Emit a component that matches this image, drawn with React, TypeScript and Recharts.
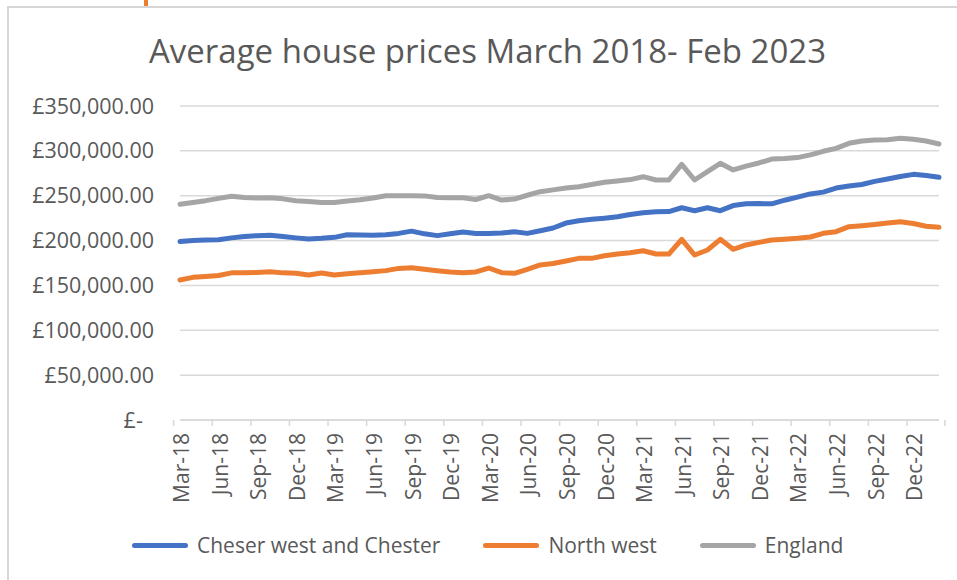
import React from "react";
import { ComposedChart, Line, XAxis, YAxis, CartesianGrid } from "recharts";

const title = "Average house prices March 2018- Feb 2023";

const months = [
  "Mar-18", "Apr-18", "May-18", "Jun-18", "Jul-18", "Aug-18", "Sep-18", "Oct-18", "Nov-18", "Dec-18", "Jan-19", "Feb-19",
  "Mar-19", "Apr-19", "May-19", "Jun-19", "Jul-19", "Aug-19", "Sep-19", "Oct-19", "Nov-19", "Dec-19", "Jan-20", "Feb-20",
  "Mar-20", "Apr-20", "May-20", "Jun-20", "Jul-20", "Aug-20", "Sep-20", "Oct-20", "Nov-20", "Dec-20", "Jan-21", "Feb-21",
  "Mar-21", "Apr-21", "May-21", "Jun-21", "Jul-21", "Aug-21", "Sep-21", "Oct-21", "Nov-21", "Dec-21", "Jan-22", "Feb-22",
  "Mar-22", "Apr-22", "May-22", "Jun-22", "Jul-22", "Aug-22", "Sep-22", "Oct-22", "Nov-22", "Dec-22", "Jan-23", "Feb-23",
];

const cheshireWest = [
  199000, 200000, 200500, 201000, 203000, 204500, 205500, 206000, 204500, 203000, 201800, 202500,
  203600, 206500, 206300, 206000, 206500, 208000, 210500, 207500, 205500, 207500, 209500, 208000,
  208000, 208500, 209800, 208000, 211000, 214000, 219500, 222000, 223700, 225000, 226500, 229000,
  231000, 232000, 232300, 236600, 233300, 236600, 233300, 239000, 241000, 241200, 241000, 245000,
  248500, 252000, 254000, 258500, 260800, 262500, 266000, 268600, 271500, 273800, 272500, 270500,
];

const northWest = [
  156000, 159000, 160000, 161000, 164000, 164200, 164500, 165300, 164000, 163500, 161600, 163800,
  161600, 163000, 164200, 165300, 166500, 169000, 169800, 168000, 166400, 165000, 164200, 165000,
  169400, 164200, 163500, 168000, 172800, 174500, 177200, 180200, 180200, 183100, 185000, 186500,
  188700, 185000, 185000, 201400, 183900, 189500, 201400, 190300, 195100, 198000, 200600, 201400,
  202500, 204000, 208100, 209900, 215500, 216500, 217800, 219500, 221000, 219000, 216000, 214800,
];

const england = [
  240500, 242500, 244500, 247000, 249500, 248000, 247500, 247800, 246500, 244500, 243500, 242500,
  242500, 244000, 245500, 247500, 250000, 250000, 250000, 249800, 248000, 247800, 247800, 245800,
  250000, 245200, 246300, 250500, 254500, 256500, 258500, 260000, 262500, 265000, 266500, 268000,
  271200, 267500, 267500, 285000, 267500, 276800, 286100, 278700, 283000, 286500, 290900, 291500,
  292500, 295500, 299500, 302800, 308400, 311000, 312100, 312500, 314000, 313000, 311000, 307600,
];

const yTicks = [0, 50000, 100000, 150000, 200000, 250000, 300000, 350000];

const seriesNames = ["Cheser west and Chester", "North west", "England"];
const seriesKeys = ["cwc", "nw", "eng"];
const seriesColors = ["#4472C4", "#ED7D31", "#A5A5A5"];

const data = months.map((m, i) => ({
  month: m,
  cwc: cheshireWest[i],
  nw: northWest[i],
  eng: england[i],
}));

const W = 957;
const H = 580;
const MARGIN = { top: 106, right: 18, bottom: 0, left: 0 };
const Y_AXIS_W = 180;
const X_AXIS_H = 160;
const PLOT_W = W - MARGIN.left - MARGIN.right - Y_AXIS_W;
const FONT = "'Open Sans', sans-serif";
const TEXT = "#595959";
const GRID = "#D9D9D9";

const fmtY = (v: number) =>
  v === 0
    ? "£-\u00a0\u00a0"
    : "£" + v.toLocaleString("en-GB", { minimumFractionDigits: 2, maximumFractionDigits: 2 });

const XTick = (props: any) => {
  const { x, y, payload } = props;
  const idx = months.indexOf(payload.value);
  const step = PLOT_W / months.length;
  const left = x - step / 2;
  const isLast = idx + 3 >= months.length;
  const tx = x + 9;
  const ty = y + 13;
  return (
    <g>
      <line x1={left} x2={left} y1={y} y2={y + 6} stroke={GRID} strokeWidth={1.5} />
      {isLast && (
        <line
          x1={x + step * (months.length - idx - 0.5)}
          x2={x + step * (months.length - idx - 0.5)}
          y1={y}
          y2={y + 6}
          stroke={GRID}
          strokeWidth={1.5}
        />
      )}
      <text
        x={tx}
        y={ty}
        transform={`rotate(-90, ${tx}, ${ty})`}
        textAnchor="end"
        fill={TEXT}
        fontSize={21}
        fontFamily={FONT}
      >
        {payload.value}
      </text>
    </g>
  );
};

export default function App() {
  return (
    <div
      style={{
        position: "absolute",
        left: 0,
        top: 0,
        width: W,
        height: H,
        background: "#fff",
        overflow: "hidden",
        fontFamily: FONT,
      }}
    >
      <div
        style={{
          position: "absolute",
          left: 7,
          top: 6,
          width: 1000,
          height: 700,
          borderLeft: "2px solid #D6D6D6",
          borderTop: "2px solid #D6D6D6",
        }}
      />
      <div style={{ position: "absolute", left: 144, top: 0, width: 4, height: 6, background: "#ED7D31" }} />
      <div
        style={{
          position: "absolute",
          left: 0,
          top: 28,
          width: 975,
          textAlign: "center",
          fontSize: 33,
          lineHeight: "45px",
          color: TEXT,
          whiteSpace: "nowrap",
        }}
      >
        {title}
      </div>
      <div style={{ position: "absolute", left: 0, top: 0 }}>
        <ComposedChart width={W} height={H} data={data} margin={MARGIN}>
          <CartesianGrid horizontal vertical={false} stroke={GRID} strokeWidth={1.5} />
          <XAxis
            dataKey="month"
            interval={2}
            height={X_AXIS_H}
            tickLine={false}
            tickSize={0}
            tickMargin={0}
            axisLine={{ stroke: GRID, strokeWidth: 1.5 }}
            tick={<XTick />}
          />
          <YAxis
            width={Y_AXIS_W}
            domain={[0, 350000]}
            ticks={yTicks}
            tickFormatter={fmtY}
            axisLine={false}
            tickLine={false}
            tickSize={0}
            tickMargin={26}
            tick={{ fill: TEXT, fontSize: 21.5, fontFamily: FONT }}
          />
          {seriesKeys.map((k, i) => (
            <Line
              key={k}
              type="linear"
              dataKey={k}
              name={seriesNames[i]}
              stroke={seriesColors[i]}
              strokeWidth={5}
              strokeLinecap="round"
              strokeLinejoin="round"
              dot={false}
              activeDot={false}
              isAnimationActive={false}
            />
          ))}
        </ComposedChart>
      </div>
      <div
        style={{
          position: "absolute",
          left: 132,
          top: 530,
          height: 31,
          display: "flex",
          alignItems: "center",
        }}
      >
        {seriesNames.map((n, i) => (
          <div
            key={n}
            style={{ display: "flex", alignItems: "center", marginRight: i < seriesNames.length - 1 ? 43 : 0 }}
          >
            <span
              style={{
                display: "inline-block",
                width: 56,
                height: 5,
                borderRadius: 3,
                background: seriesColors[i],
                marginRight: 9,
              }}
            />
            <span style={{ fontSize: 21, lineHeight: "31px", color: TEXT, whiteSpace: "nowrap" }}>{n}</span>
          </div>
        ))}
      </div>
    </div>
  );
}
